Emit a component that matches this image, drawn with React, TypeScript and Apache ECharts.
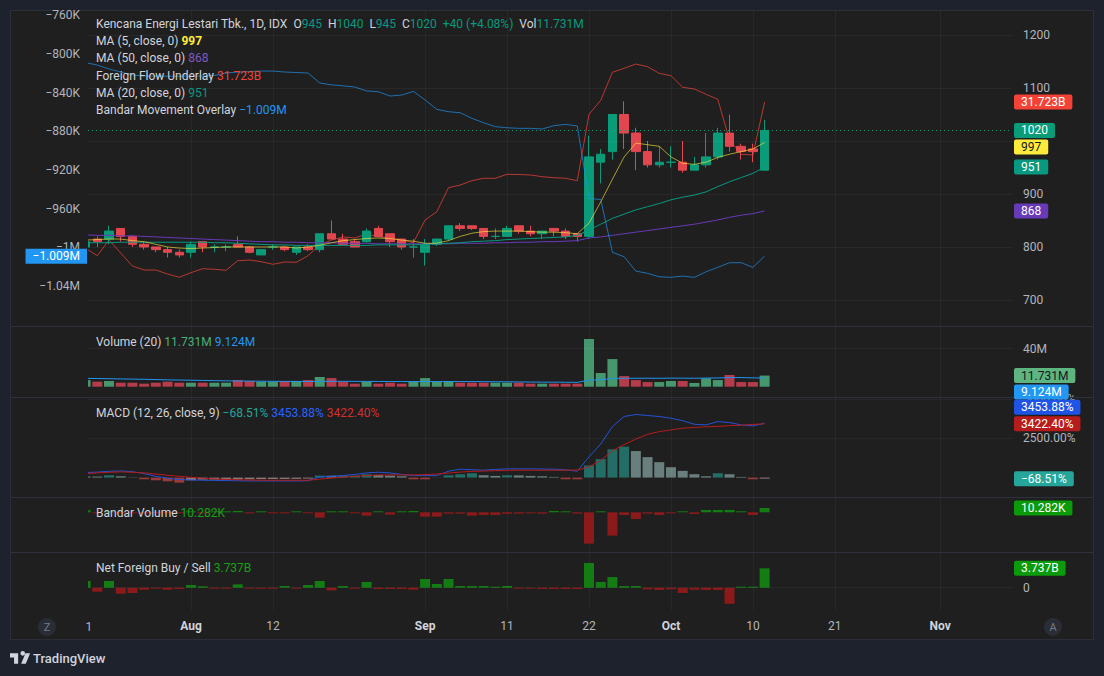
import { useEffect, useRef } from 'react';
import * as echarts from 'echarts';

// ---------------- data ----------------
const openP = [800,815,815,835,820,805,800,795,790,790,810,800,800,805,800,785,800,800,790,800,795,825,815,810,810,835,825,815,800,790,805,815,840,840,835,820,820,840,830,825,835,830,825,820,960,980,1050,1015,980,955,960,960,945,955,970,1015,990,985,945];
const highP = [812,820,840,835,822,810,800,800,795,810,810,805,805,820,802,795,805,802,800,805,825,850,825,815,835,840,825,815,815,815,815,840,845,840,835,835,840,840,840,830,835,835,825,1010,985,1050,1075,1025,1000,990,990,1000,970,1015,1025,1050,995,995,1040];
const lowP = [798,800,805,810,800,795,790,780,780,780,790,790,792,800,788,785,795,792,785,792,790,815,805,800,808,820,800,795,780,765,802,812,830,832,815,815,820,825,820,815,820,815,810,815,920,965,985,945,950,950,950,940,945,950,965,980,965,960,945];
const closeP = [810,810,830,820,805,800,795,790,785,805,800,800,800,800,790,795,800,795,800,795,825,815,805,800,830,820,810,800,800,805,815,840,835,835,820,820,835,830,825,830,830,820,820,970,975,1050,1015,980,955,960,960,945,955,970,1015,990,980,980,1020];
const ma5 = [813,814,815,815,812,810,805,800,798,797,798,799,800,800,800,800,800,800,798,800,803,808,812,814,816,817,816,813,811,807,807,812,820,826,829,830,830,830,829,828,828,827,825,845,885,928,970,996,993,990,970,958,956,960,969,975,980,985,997];
const ma20 = [808,808,808,809,809,809,809,809,809,809,809,808,808,807,806,805,804,804,803,803,803,803,803,803,803,804,804,804,804,805,806,807,808,810,811,812,814,815,816,817,818,819,822,832,843,854,862,870,876,882,889,894,898,904,914,923,931,939,951];
const ma50 = [823,822,822,821,821,820,819,818,817,816,815,814,813,812,811,810,810,809,809,808,808,808,807,807,807,806,806,806,806,806,806,806,807,807,807,808,808,809,809,810,810,811,812,817,819,822,825,828,831,834,837,840,843,847,851,856,860,863,868];
// Foreign Flow Underlay (billions)
const foreignFlow = [-4.85,-6.70,-2.78,-6.03,-9.28,-10.28,-10.28,-11.28,-12.10,-10.95,-9.95,-10.10,-10.35,-7.95,-7.78,-8.20,-8.85,-8.28,-8.35,-6.70,-4.03,-2.78,-2.03,-2.28,-1.28,-1.95,-2.28,-2.78,-3.45,2.22,4.30,10.30,10.97,12.05,12.65,12.65,13.65,13.60,13.47,13.05,12.80,12.65,12.05,28.65,32.15,39.15,40.15,41.22,40.55,38.90,38.30,35.40,34.97,33.65,32.40,22.22,18.65,18.47,31.723];
// Bandar Movement Overlay (thousands)
const bandarMove = [-809,-811.5,-815.6,-818.7,-821.8,-822.8,-823,-823,-823,-823,-823,-822.3,-819.7,-818.7,-818.2,-817.7,-817.7,-818.7,-819.2,-819.7,-830,-832,-833,-834.2,-838.3,-839,-843.5,-842.5,-838.7,-847.6,-857.3,-859.7,-860.8,-866.6,-871.1,-875.2,-876.3,-876.9,-876.9,-877.6,-874.2,-872.8,-874.5,-949.3,-950.5,-1005,-1009.6,-1024.4,-1026.8,-1030.3,-1030.9,-1029.6,-1030.9,-1025.1,-1020.6,-1015.8,-1015.8,-1020.6,-1009];
// Volume (millions)
const volume = [7,5.3,6,4.2,4.2,3.2,4.2,5.3,4.2,4.2,4.2,4.2,4.2,7,6,5.3,5.3,6,6,7,10.2,9.1,5.3,3.2,5.3,3.2,4.2,3.2,6,9.1,5.3,6,4.2,4.2,4.2,4.2,4.2,4.2,3.2,3.2,3.2,3.2,3.2,50.2,14.4,29.1,11.2,7,4.9,4.9,6,6,3.9,8.8,7,12.3,4.9,4.9,11.731];
const volumeMa = [8.8,8.6,8.4,8.2,8,7.8,7.5,7.2,7,6.8,6.6,6.4,6.2,6,5.9,5.8,5.7,5.6,5.6,5.5,5.6,5.7,5.7,5.6,5.6,5.5,5.5,5.4,5.4,5.5,5.5,5.5,5.4,5.4,5.3,5.2,5.1,5,4.9,4.8,4.8,4.7,4.6,6.9,7.4,8.6,8.9,8.9,8.9,8.9,9,9,8.9,9.1,9.2,9.6,9.6,9.3,9.124];
// MACD (percent)
const macdLine = [320,350,400,423,380,250,80,-40,-120,-150,-170,-180,-190,-200,-213,-213,-213,-213,-213,-200,43,90,128,200,300,342,300,200,128,128,128,406,534,500,470,520,556,556,556,545,534,491,406,1320,2137,3244,3885,4013,3950,3885,3780,3620,3393,3351,3564,3500,3350,3290,3453.88];
const signalLine = [256,300,340,363,340,300,230,150,80,20,-40,-90,-120,-140,-155,-165,-170,-170,-170,-170,-100,-30,30,80,130,165,171,171,171,190,230,290,350,400,420,440,460,470,470,470,470,470,480,684,1100,1700,2100,2450,2750,2927,3030,3142,3190,3230,3260,3300,3330,3380,3422.40];
const macdHist = [70,64,150,85,30,-107,-171,-235,-320,-171,-128,-125,-122,-118,-107,-95,-90,-85,-80,-64,128,120,125,128,213,171,128,85,-107,-110,-5,150,213,278,150,107,150,140,107,85,43,-107,-110,769,1175,1795,1966,1688,1303,983,662,427,214,85,278,213,43,-107,-68.51];
// Bandar Volume (thousands)
const bandarVolume = [5,-1.5,1.5,-1.5,-1.5,-1.5,-1.5,-1.5,-1.5,1.5,-1.5,1.5,1.5,3.2,-2.5,1.5,-1.5,-2.5,1.5,-1.5,-12.8,1.5,1.5,-1.5,-8,1.5,-5.6,1.5,3.2,-10.4,-10.4,-3.2,-3.2,-8,-6.4,-6.4,-3.2,-3.2,-1.5,-3.2,3.2,1.5,-3.2,-75,1.5,-55.8,-6.4,-16,-3.2,-6.4,-1.5,1.5,-4,5.6,5.6,5.6,1.5,-6.4,10.282];
// Net Foreign Buy / Sell (billions)
const netForeign = [1.29,-0.77,1.29,-1.16,-1.03,-0.39,-0.15,-0.39,-0.26,0.52,0.26,-0.13,-0.13,0.64,-0.13,-0.2,-0.2,0.32,-0.1,0.52,1.29,-0.52,0.32,-0.13,1.1,-0.26,-0.26,-0.26,-0.39,1.68,0.71,1.68,0.32,0.32,0.32,0.13,0.32,-0.13,-0.13,-0.26,-0.26,-0.26,-0.26,4.78,1.1,2.06,0.32,0.32,-0.32,-0.45,-0.32,-1.03,-0.39,-0.45,-0.45,-3.1,0,0,3.737];

// time axis: bar index of each label (first label "21" is clipped to "1")
const tickIndex = [0, 9, 16, 29, 36, 43, 50, 57, 64, 73];
const tickText = ['21', 'Aug', '12', 'Sep', '11', '22', 'Oct', '10', '21', 'Nov'];
const monthLabels = ['Aug', 'Sep', 'Oct', 'Nov'];
const priceGridTicks = [700, 800, 900, 1000, 1100, 1200];
const priceLabelTicks = [700, 800, 900, 1100, 1200]; // 1000 is hidden under the value tags
const bandarMoveTicks = [-1040, -1000, -960, -920, -880, -840, -800, -760];
const volumeTicks = [40];
const macdTicks = [2500, 5000];
const netForeignTicks = [0];
const symbolTitle = 'Kencana Energi Lestari Tbk., 1D, IDX';

// ---------------- layout / style ----------------
const W = 1104;
const H = 676;
const FRAME = { l: 10, t: 10, r: 1094, b: 640 };
const PLOT_L = 88;
const PLOT_R = 1012;
const PANES = [[10, 326], [326, 397], [397, 497], [497, 552], [552, 610]];
const X_MIN = 0.205;
const X_MAX = 79.13;
const FONT = 'Roboto, "Noto Sans", sans-serif';
const AXIS_TXT = '#b2b5be';
const LEG_TXT = '#d1d4dc';
const CHART_BG = '#1f1f1f';
const GRID_LINE = 'rgba(255,255,255,0.045)';
const SEP = '#2e3140';
const UP = '#0a9c78';
const DOWN = '#e2474f';
const MINUS = '\u2212';

const N = closeP.length;

function isUp(i: number): boolean {
  if (closeP[i] > openP[i]) return true;
  if (closeP[i] < openP[i]) return false;
  return i === 0 ? true : closeP[i - 1] <= closeP[i];
}
const sgn = (v: number) => (v < 0 ? MINUS : '');
const fmtK = (v: number) => {
  const a = Math.abs(v);
  if (a >= 1000) return sgn(v) + String(+(a / 1000).toFixed(2)) + 'M';
  return sgn(v) + a + 'K';
};
const pair = (arr: number[]) => arr.map((v, i) => [i, v]);

function histColor(i: number): string {
  const v = macdHist[i];
  const prev = i > 0 ? macdHist[i - 1] : undefined;
  const grow = prev !== undefined && prev < v;
  if (v >= 0) return grow ? 'rgba(38,166,154,0.58)' : 'rgba(178,223,219,0.5)';
  return grow ? 'rgba(255,205,210,0.5)' : 'rgba(255,82,82,0.55)';
}

const TV_LOGO = 'M14 22H7V11H0V4h14v18z M22 8a4 4 0 1 0 0-8a4 4 0 0 0 0 8z M19.2 22l7.5-18h8l-7.5 18h-8z';
let logoRegistered = false;

export default function App() {
  const ref = useRef<HTMLDivElement>(null);

  useEffect(() => {
    document.body.style.margin = '0';
    document.body.style.background = '#1e222d';
    if (!logoRegistered) {
      echarts.graphic.registerShape('tvlogo', echarts.graphic.extendPath(TV_LOGO, {}) as any);
      logoRegistered = true;
    }
    const el = ref.current!;
    const chart = echarts.init(el, null, { renderer: 'svg' });

    const grid = PANES.map(([t, b]) => ({ left: PLOT_L, width: PLOT_R - PLOT_L, top: t, height: b - t }));
    const xAxis = PANES.map((_, k) => ({
      type: 'value',
      gridIndex: k,
      min: X_MIN,
      max: X_MAX,
      axisLine: { show: false },
      axisTick: { show: false, customValues: tickIndex },
      splitLine: { show: true, lineStyle: { color: GRID_LINE, width: 1 } },
      axisLabel: k === PANES.length - 1
        ? {
            show: true,
            customValues: tickIndex,
            margin: 10,
            color: AXIS_TXT,
            fontSize: 12,
            fontFamily: FONT,
            formatter: (v: number) => {
              const t = tickText[tickIndex.indexOf(Math.round(v))] ?? '';
              return monthLabels.includes(t) ? `{b|${t}}` : t;
            },
            rich: { b: { fontWeight: 'bold', color: LEG_TXT, fontSize: 12, fontFamily: FONT } },
          }
        : { show: false },
    }));

    const rightAxis = (gridIndex: number, min: number, max: number, gridTicks: number[], labelTicks: number[], fmt: (v: number) => string) => ({
      type: 'value',
      gridIndex,
      position: 'right',
      min,
      max,
      z: 20,
      axisLine: { show: false },
      axisTick: { show: false, customValues: gridTicks },
      splitLine: { show: true, lineStyle: { color: GRID_LINE } },
      axisLabel: { customValues: labelTicks, margin: 11, color: AXIS_TXT, fontSize: 12, fontFamily: FONT, formatter: fmt },
    });

    const yAxis: any[] = [
      rightAxis(0, 650.9, 1247.2, priceGridTicks, priceLabelTicks, (v) => String(v)), // 0 price
      {
        type: 'value', gridIndex: 0, position: 'left', min: -1081.2, max: -754.6, z: 20,
        axisLine: { show: false },
        axisTick: { show: false, customValues: bandarMoveTicks },
        splitLine: { show: false },
        axisLabel: { customValues: bandarMoveTicks, margin: 8, color: AXIS_TXT, fontSize: 12, fontFamily: FONT, formatter: fmtK },
      }, // 1 bandar movement
      { type: 'value', gridIndex: 0, show: false, min: -24.277, max: 54.723, splitLine: { show: false } }, // 2 foreign flow
      rightAxis(1, -10.84, 63.9, volumeTicks, volumeTicks, (v) => v + 'M'), // 3 volume
      rightAxis(2, -1234, 5126, macdTicks, macdTicks, (v) => v.toFixed(2) + '%'), // 4 macd
      { type: 'value', gridIndex: 3, show: false, min: -95, max: 36.6, splitLine: { show: false } }, // 5 bandar volume
      rightAxis(4, -4.31, 6.9, netForeignTicks, netForeignTicks, (v) => String(v)), // 6 net foreign
    ];

    const line = (x: number, y: number, data: number[], color: string, z = 3) => ({
      type: 'line', xAxisIndex: x, yAxisIndex: y, data: pair(data), symbol: 'none', showSymbol: false,
      lineStyle: { color, width: 1 }, silent: true, z,
    });

    const option: any = {
      animation: false,
      backgroundColor: 'transparent',
      textStyle: { fontFamily: FONT },
      grid,
      xAxis,
      yAxis,
      series: [
        line(0, 2, foreignFlow, 'rgba(244,67,54,0.72)', 1),
        {
          type: 'candlestick', xAxisIndex: 0, yAxisIndex: 0,
          data: openP.map((o, i) => [i, o, closeP[i], lowP[i], highP[i]]),
          barWidth: 9, silent: true, z: 2,
          itemStyle: { color: UP, color0: DOWN, borderColor: UP, borderColor0: DOWN, borderWidth: 1 },
          markLine: {
            silent: true, symbol: ['none', 'none'], label: { show: false },
            lineStyle: { color: UP, type: [1, 3], width: 1 },
            data: [{ yAxis: closeP[N - 1] }],
          },
        },
        line(0, 0, ma50, '#673ab7'),
        line(0, 0, ma20, '#089981'),
        line(0, 0, ma5, 'rgba(255,235,59,0.62)'),
        line(0, 1, bandarMove, 'rgba(33,150,243,0.68)'),
        {
          type: 'bar', xAxisIndex: 1, yAxisIndex: 3, barWidth: 10, silent: true,
          data: volume.map((v, i) => ({ value: [i, v], itemStyle: { color: isUp(i) ? '#46966e' : '#b43c4b' } })),
        },
        line(1, 3, volumeMa, '#2196f3'),
        {
          type: 'bar', xAxisIndex: 2, yAxisIndex: 4, barWidth: 10, silent: true,
          data: macdHist.map((v, i) => ({ value: [i, v], itemStyle: { color: histColor(i) } })),
        },
        line(2, 4, macdLine, '#2453d6'),
        line(2, 4, signalLine, '#b71c1c'),
        {
          type: 'bar', xAxisIndex: 3, yAxisIndex: 5, barWidth: 10, barMinHeight: 1, silent: true,
          data: bandarVolume.map((v, i) => ({ value: [i, v], itemStyle: { color: v >= 0 ? '#137d13' : '#8c1a1a' } })),
        },
        {
          type: 'bar', xAxisIndex: 4, yAxisIndex: 6, barWidth: 10, barMinHeight: 1, silent: true,
          data: netForeign.map((v, i) => ({ value: [i, v], itemStyle: { color: v >= 0 ? '#137d13' : '#8c1a1a' } })),
        },
      ],
    };
    chart.setOption(option);

    // ---------- overlays: legends, value tags, separators ----------
    const py = (axis: number, v: number) => chart.convertToPixel({ yAxisIndex: axis } as any, v) as number;
    const px = (v: number) => chart.convertToPixel({ xAxisIndex: 0 } as any, v) as number;
    const f12 = `12px ${FONT}`;
    const rich: any = {
      t: { fill: LEG_TXT, font: f12 },
      g: { fill: '#089981', font: f12 },
      y: { fill: '#ffeb3b', font: `bold 12px ${FONT}` },
      p: { fill: '#7e57c2', font: f12 },
      r: { fill: '#f44336', font: f12 },
      b: { fill: '#2196f3', font: f12 },
      vg: { fill: '#4caf7a', font: f12 },
      mt: { fill: '#26a69a', font: f12 },
      mb: { fill: '#2962ff', font: f12 },
      mr: { fill: '#d32f2f', font: f12 },
      bg: { fill: '#16a016', font: f12 },
    };
    const last = N - 1;
    const chg = closeP[last] - closeP[last - 1];
    const chgPct = (chg / closeP[last - 1]) * 100;
    const legendRows = [
      `{t|${symbolTitle}}  {t|O}{g|${openP[last]}}  {t|H}{g|${highP[last]}}  {t|L}{g|${lowP[last]}}  {t|C}{g|${closeP[last]}}  {g|${chg >= 0 ? '+' : MINUS}${Math.abs(chg)} (${chg >= 0 ? '+' : MINUS}${Math.abs(chgPct).toFixed(2)}%)}  {t|Vol}{g|${volume[last].toFixed(3)}M}`,
      `{t|MA (5, close, 0)} {y|${ma5[last]}}`,
      `{t|MA (50, close, 0)} {p|${ma50[last]}}`,
      `{t|Foreign Flow Underlay} {r|${foreignFlow[last].toFixed(3)}B}`,
      `{t|MA (20, close, 0)} {g|${ma20[last]}}`,
      `{t|Bandar Movement Overlay} {b|${sgn(bandarMove[last])}${(Math.abs(bandarMove[last]) / 1000).toFixed(3)}M}`,
    ];
    const paneLegends = [
      [1, `{t|Volume (20)} {vg|${volume[last].toFixed(3)}M} {b|${volumeMa[last].toFixed(3)}M}`],
      [2, `{t|MACD (12, 26, close, 9)} {mt|${sgn(macdHist[last])}${Math.abs(macdHist[last]).toFixed(2)}%} {mb|${macdLine[last].toFixed(2)}%} {mr|${signalLine[last].toFixed(2)}%}`],
      [3, `{t|Bandar Volume} {bg|${bandarVolume[last].toFixed(3)}K}`],
      [4, `{t|Net Foreign Buy / Sell} {bg|${netForeign[last].toFixed(3)}B}`],
    ] as [number, string][];

    const graphics: any[] = [];
    // mask: the left scale column hides anything drawn left of the plot area
    graphics.push({
      type: 'rect', z: 10, silent: true,
      shape: { x: FRAME.l + 1, y: PANES[0][0] + 1, width: PLOT_L - FRAME.l - 1, height: PANES[PANES.length - 1][1] - PANES[0][0] - 1 },
      style: { fill: CHART_BG },
    });
    legendRows.forEach((txt, r) => {
      graphics.push({
        type: 'text', x: 96, y: 24 + r * 17.2, z: 100, silent: true,
        style: { text: txt, rich, font: f12, fill: LEG_TXT, textVerticalAlign: 'middle', verticalAlign: 'middle' },
      });
    });
    paneLegends.forEach(([p, txt]) => {
      graphics.push({
        type: 'text', x: 96, y: PANES[p][0] + 16, z: 100, silent: true,
        style: { text: txt, rich, font: f12, fill: LEG_TXT, textVerticalAlign: 'middle', verticalAlign: 'middle' },
      });
    });
    // pane separators
    PANES.slice(1).forEach(([t]) => {
      graphics.push({
        type: 'line', z: 90, silent: true,
        shape: { x1: FRAME.l, y1: t + 0.5, x2: FRAME.r, y2: t + 0.5 },
        style: { stroke: SEP, lineWidth: 1 },
      });
    });

    // value tags on the price scales
    type Tag = { pane: number; axis: number; value: number; text: string; bg: string; fg: string };
    const tags: Tag[] = [
      { pane: 0, axis: 0, value: closeP[last], text: String(closeP[last]), bg: UP, fg: '#ffffff' },
      { pane: 0, axis: 2, value: foreignFlow[last], text: foreignFlow[last].toFixed(3) + 'B', bg: '#f44336', fg: '#ffffff' },
      { pane: 0, axis: 0, value: ma5[last], text: String(ma5[last]), bg: '#ffeb3b', fg: '#131722' },
      { pane: 0, axis: 0, value: ma20[last], text: String(ma20[last]), bg: '#089981', fg: '#ffffff' },
      { pane: 0, axis: 0, value: ma50[last], text: String(ma50[last]), bg: '#673ab7', fg: '#ffffff' },
      { pane: 1, axis: 3, value: volume[last], text: volume[last].toFixed(3) + 'M', bg: '#5fb57f', fg: '#131722' },
      { pane: 1, axis: 3, value: volumeMa[last], text: volumeMa[last].toFixed(3) + 'M', bg: '#2196f3', fg: '#ffffff' },
      { pane: 2, axis: 4, value: signalLine[last], text: signalLine[last].toFixed(2) + '%', bg: '#b71c1c', fg: '#ffffff' },
      { pane: 2, axis: 4, value: macdLine[last], text: macdLine[last].toFixed(2) + '%', bg: '#1e53e5', fg: '#ffffff' },
      { pane: 2, axis: 4, value: macdHist[last], text: sgn(macdHist[last]) + Math.abs(macdHist[last]).toFixed(2) + '%', bg: '#26a69a', fg: '#ffffff' },
      { pane: 3, axis: 5, value: bandarVolume[last], text: bandarVolume[last].toFixed(3) + 'K', bg: '#0a9a0a', fg: '#ffffff' },
      { pane: 4, axis: 6, value: netForeign[last], text: netForeign[last].toFixed(3) + 'B', bg: '#0a9a0a', fg: '#ffffff' },
    ];
    const TAG_STEP = 16.5;
    const placed: { pane: number; y: number }[] = [];
    tags.forEach((tg) => {
      const ideal = py(tg.axis, tg.value);
      let y = ideal;
      let dir = 0;
      for (let it = 0; it < 20; it++) {
        const hit = placed.find((p) => p.pane === tg.pane && Math.abs(p.y - y) < 15);
        if (!hit) break;
        if (dir === 0) dir = ideal >= hit.y ? 1 : -1;
        y = hit.y + dir * TAG_STEP;
      }
      placed.push({ pane: tg.pane, y });
      graphics.push({
        type: 'text', x: PLOT_R + 2, y, z: 120, silent: true,
        style: {
          text: tg.text, font: f12, fill: tg.fg, backgroundColor: tg.bg, padding: [2, 7, 1, 7], borderRadius: 2,
          textAlign: 'left', align: 'left', textVerticalAlign: 'middle', verticalAlign: 'middle',
        },
      });
    });
    // left scale tag (Bandar Movement Overlay)
    graphics.push({
      type: 'text', x: PLOT_L - 1, y: py(1, bandarMove[last]), z: 120, silent: true,
      style: {
        text: `${sgn(bandarMove[last])}${(Math.abs(bandarMove[last]) / 1000).toFixed(3)}M`,
        font: f12, fill: '#ffffff', backgroundColor: '#2196f3', padding: [2, 7, 1, 7],
        textAlign: 'right', align: 'right', textVerticalAlign: 'middle', verticalAlign: 'middle',
      },
    });
    // first (clipped) time label: only the "1" of "21" is visible
    graphics.push({
      type: 'text', x: px(tickIndex[0]), y: 627, z: 100, silent: true,
      style: { text: tickText[0].slice(-1), font: f12, fill: AXIS_TXT, textAlign: 'left', align: 'left', textVerticalAlign: 'middle', verticalAlign: 'middle' },
    });
    // Z / A buttons
    [[47, 'Z'], [1053, 'A']].forEach(([cx, s]) => {
      graphics.push({ type: 'circle', z: 100, silent: true, shape: { cx: cx as number, cy: 627, r: 9 }, style: { fill: '#2a2d36' } });
      graphics.push({
        type: 'text', x: cx as number, y: 627, z: 101, silent: true,
        style: { text: s as string, font: `11px ${FONT}`, fill: '#787b86', textAlign: 'center', align: 'center', textVerticalAlign: 'middle', verticalAlign: 'middle' },
      });
    });
    // TradingView logo
    graphics.push({ type: 'tvlogo', x: 10, y: 651, scaleX: 0.58, scaleY: 0.58, z: 100, silent: true, style: { fill: '#d1d4dc' } });
    graphics.push({
      type: 'text', x: 33, y: 658, z: 100, silent: true,
      style: { text: 'TradingView', font: `500 13px ${FONT}`, fill: '#d1d4dc', textVerticalAlign: 'middle', verticalAlign: 'middle' },
    });

    chart.setOption({ graphic: graphics });

    return () => chart.dispose();
  }, []);

  return (
    <div style={{ position: 'relative', width: W, height: H, background: '#1e222d', overflow: 'hidden' }}>
      <div
        style={{
          position: 'absolute', left: FRAME.l, top: FRAME.t, width: FRAME.r - FRAME.l - 2, height: FRAME.b - FRAME.t - 2,
          background: CHART_BG, border: '1px solid #2a2e39',
        }}
      />
      <div ref={ref} style={{ position: 'absolute', left: 0, top: 0, width: W, height: H }} />
    </div>
  );
}
